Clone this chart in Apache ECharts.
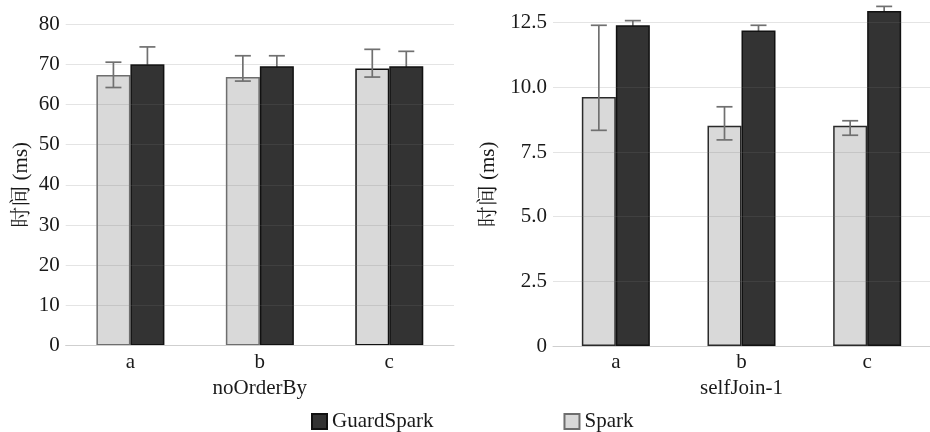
<!DOCTYPE html>
<html>
<head>
<meta charset="utf-8">
<script src="https://cdn.jsdelivr.net/npm/echarts@6/dist/echarts.min.js"></script>
<style>html,body{margin:0;padding:0;background:#fff}#c{width:930px;height:432px}</style>
</head>
<body>
<div id="c"></div>
<script>
// ---- data ----
var categories = ['a', 'b', 'c'];
var panelTitles = ['noOrderBy', 'selfJoin-1'];
var seriesNames = ['GuardSpark', 'Spark'];

var noOrderBySpark     = [67.3, 66.8, 68.9];
var noOrderBySparkLow  = [64.2, 65.8, 66.8];
var noOrderBySparkHigh = [70.5, 72.1, 73.7];
var noOrderByGuard     = [70.0, 69.5, 69.5];
var noOrderByGuardLow  = [65.7, 66.9, 65.8];
var noOrderByGuardHigh = [74.3, 72.1, 73.2];

var selfJoinSpark      = [9.63, 8.52, 8.52];
var selfJoinSparkLow   = [8.34, 7.97, 8.15];
var selfJoinSparkHigh  = [12.40, 9.25, 8.71];
var selfJoinGuard      = [12.40, 12.20, 12.95];
var selfJoinGuardLow   = [12.22, 12.00, 12.77];
var selfJoinGuardHigh  = [12.58, 12.40, 13.13];

var leftTicks = {min: 0, max: 80, interval: 10};
var rightTicks = {min: 0, max: 12.5, interval: 2.5};

// ---- styles ----
var FONT = "'Liberation Serif', 'Times New Roman', 'Noto Serif CJK SC', 'Noto Sans CJK SC', serif";
var TXT = '#1a1a1a';
var BAR_W = 34;

function errData(low, high) {
  return categories.map(function (c, i) { return [i, low[i], high[i]]; });
}
function errSeries(name, gridIdx, data, offset, z) {
  return {
    type: 'custom', name: name, xAxisIndex: gridIdx, yAxisIndex: gridIdx, z: z,
    clip: false, silent: true,
    encode: {x: 0, y: [1, 2]},
    data: data,
    renderItem: function (params, api) {
      var x = api.value(0), lo = api.value(1), hi = api.value(2);
      var pLo = api.coord([x, lo]), pHi = api.coord([x, hi]);
      var cx = pLo[0] + offset, hw = 8;
      var st = {stroke: '#707070', lineWidth: 1.7};
      return {type: 'group', children: [
        {type: 'line', shape: {x1: cx, y1: pLo[1], x2: cx, y2: pHi[1]}, style: st},
        {type: 'line', shape: {x1: cx - hw, y1: pLo[1], x2: cx + hw, y2: pLo[1]}, style: st},
        {type: 'line', shape: {x1: cx - hw, y1: pHi[1], x2: cx + hw, y2: pHi[1]}, style: st}
      ]};
    }
  };
}

function xAxisCfg(gridIdx) {
  return {
    type: 'category', gridIndex: gridIdx, data: categories, z: 10,
    name: panelTitles[gridIdx], nameLocation: 'middle', nameGap: 30,
    nameTextStyle: {fontFamily: FONT, fontSize: 21, color: TXT},
    axisLine: {show: true, lineStyle: {color: '#cfcfcf', width: 1}},
    axisTick: {show: false},
    axisLabel: {fontFamily: FONT, fontSize: 21, color: TXT, margin: 6},
    splitLine: {show: false}
  };
}
function yAxisCfg(gridIdx, ticks, gap, fmt) {
  return {
    type: 'value', gridIndex: gridIdx, min: ticks.min, max: ticks.max, interval: ticks.interval, z: 10,
    name: '时间 (ms)', nameLocation: 'middle', nameGap: gap,
    nameTextStyle: {fontFamily: FONT, fontSize: 21, color: TXT},
    axisLine: {show: false}, axisTick: {show: false},
    axisLabel: {fontFamily: FONT, fontSize: 21, color: TXT, margin: 6, formatter: fmt},
    splitLine: {show: true, lineStyle: {color: 'rgba(120,120,120,0.2)', width: 1.2}}
  };
}

function sparkSeries(gridIdx, data, borders) {
  return {
    type: 'bar', name: 'Spark', xAxisIndex: gridIdx, yAxisIndex: gridIdx, z: 1,
    barWidth: BAR_W, barGap: '0%', clip: false,
    itemStyle: {color: '#d9d9d9', borderColor: '#6e6e6e', borderWidth: 1.5},
    data: data.map(function (v, i) {
      return borders ? {value: v, itemStyle: {borderColor: borders[i]}} : v;
    })
  };
}
function guardSeries(gridIdx, data) {
  return {
    type: 'bar', name: 'GuardSpark', xAxisIndex: gridIdx, yAxisIndex: gridIdx, z: 3,
    barWidth: BAR_W, barGap: '0%', clip: false,
    itemStyle: {color: '#333333', borderColor: '#111111', borderWidth: 1.5},
    data: data
  };
}

var chart = echarts.init(document.getElementById('c'), null, {renderer: 'canvas'});
chart.setOption({
  backgroundColor: '#ffffff',
  animation: false,
  textStyle: {fontFamily: FONT},
  legend: {
    data: seriesNames, top: 406, left: 306,
    icon: 'rect', itemWidth: 15, itemHeight: 15, itemGap: 130,
    textStyle: {fontFamily: FONT, fontSize: 21, color: TXT}
  },
  grid: [
    {left: 65.7, top: 24, width: 388.3, height: 321.6, containLabel: false},
    {left: 553, top: 22.7, width: 388, height: 323.4, containLabel: false}
  ],
  xAxis: [xAxisCfg(0), xAxisCfg(1)],
  yAxis: [
    yAxisCfg(0, leftTicks, 34, function (v) { return String(v); }),
    yAxisCfg(1, rightTicks, 54, function (v) { return v === 0 ? '0' : v.toFixed(1); })
  ],
  series: [
    sparkSeries(0, noOrderBySpark, ['#6e6e6e', '#6e6e6e', '#111111']),
    guardSeries(0, noOrderByGuard),
    sparkSeries(1, selfJoinSpark, ['#2a2a2a', '#2a2a2a', '#2a2a2a']),
    guardSeries(1, selfJoinGuard),
    errSeries('Spark', 0, errData(noOrderBySparkLow, noOrderBySparkHigh), -BAR_W / 2, 2),
    errSeries('GuardSpark', 0, errData(noOrderByGuardLow, noOrderByGuardHigh), BAR_W / 2, 2),
    errSeries('Spark', 1, errData(selfJoinSparkLow, selfJoinSparkHigh), -BAR_W / 2, 2),
    errSeries('GuardSpark', 1, errData(selfJoinGuardLow, selfJoinGuardHigh), BAR_W / 2, 2)
  ]
});
</script>
</body>
</html>
